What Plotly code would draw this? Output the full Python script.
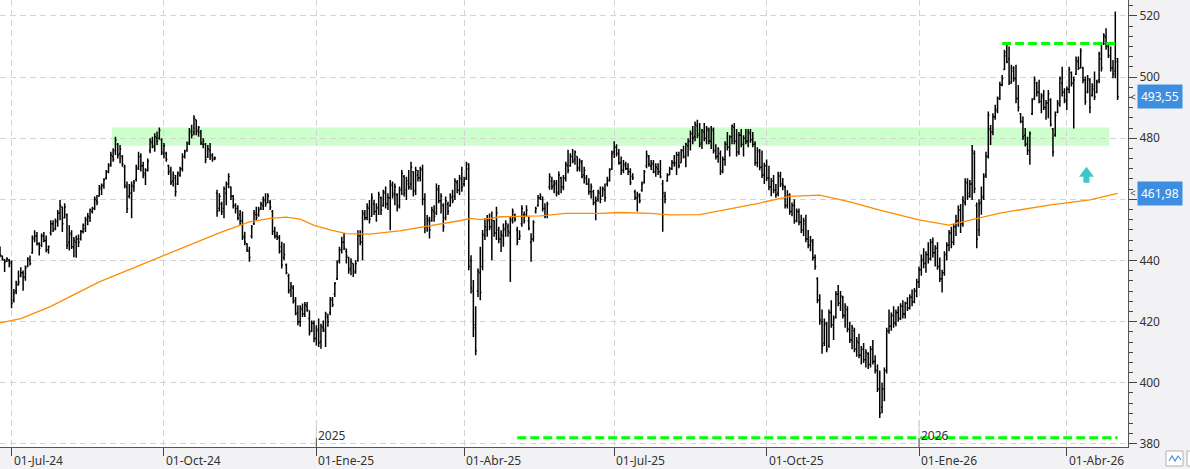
import pandas as pd
import plotly.graph_objects as go

start_date = "2024-06-24"

opens = [
444.0,441.5,440.2,439.8,440.0,439.5,427.0,430.0,432.0,435.0,
436.0,434.5,438.0,440.0,442.5,447.0,448.0,445.5,445.0,448.0,
446.5,443.5,449.0,452.0,450.5,452.5,455.5,457.5,454.0,455.0,
446.0,448.5,444.5,446.0,447.0,447.0,449.5,450.5,453.0,454.0,
456.0,457.0,459.5,461.0,463.5,464.5,467.0,469.0,471.5,474.0,
476.0,478.0,475.0,474.0,470.5,464.0,461.0,462.0,464.0,466.5,
470.0,474.0,471.0,468.5,469.5,476.0,478.5,477.0,480.0,480.0,
479.5,475.0,475.0,471.0,469.5,466.0,467.0,465.0,468.0,470.0,
474.0,476.0,478.5,482.0,482.0,486.0,482.5,482.0,478.0,478.0,
474.0,476.0,474.5,473.0,462.0,457.0,458.5,457.0,462.0,465.0,
464.0,461.0,458.0,457.0,455.0,453.0,448.0,445.5,443.0,448.0,
452.0,455.0,455.0,457.0,458.0,459.5,459.0,459.0,456.0,449.5,
448.0,447.5,444.5,441.0,438.5,435.0,430.5,431.0,427.0,423.0,
420.0,424.0,422.5,425.0,421.0,417.0,419.5,414.5,417.0,413.5,
418.0,417.0,421.5,423.0,427.0,429.0,434.0,440.0,443.5,446.0,
443.0,441.0,437.5,439.0,436.5,440.0,448.0,446.0,455.0,454.0,
457.0,454.5,458.5,456.0,457.0,460.5,458.0,462.0,458.5,460.5,
464.5,462.0,461.5,458.0,463.5,467.5,463.0,465.0,465.0,469.0,
463.0,468.0,467.0,470.0,460.0,451.0,453.0,453.0,456.0,455.5,
463.0,459.5,458.0,454.0,458.5,458.0,460.5,461.0,465.5,463.0,
466.5,465.0,467.0,470.0,440.0,430.0,418.0,430.0,436.0,438.0,
448.0,450.0,453.0,451.0,453.0,449.0,450.0,447.0,448.0,450.0,
451.0,449.0,453.0,455.0,450.0,447.0,452.0,455.0,455.0,453.0,
446.0,447.0,456.0,458.0,460.5,460.0,457.0,455.0,464.0,466.0,
464.5,465.0,462.5,467.0,464.0,467.0,471.0,471.0,474.0,473.0,
474.0,470.5,472.0,468.0,467.0,465.0,462.5,462.5,459.0,460.0,
462.0,461.0,463.0,465.0,466.0,470.0,475.5,477.0,475.0,472.0,
469.5,471.0,470.0,469.0,467.5,462.5,460.5,461.0,463.0,465.5,
471.0,474.0,471.0,471.5,469.0,470.0,469.0,465.0,461.0,466.0,
468.0,470.0,472.0,472.0,474.5,472.0,476.0,474.0,477.5,479.0,
481.5,480.5,484.0,481.5,478.5,482.0,480.0,482.5,479.0,482.5,
476.0,474.0,475.0,469.5,473.0,478.0,477.0,480.5,483.5,479.0,
475.5,481.0,478.0,480.0,479.0,481.5,479.5,478.0,472.0,475.5,
470.5,468.0,471.0,467.0,464.0,466.0,463.0,462.0,467.5,465.0,
464.0,458.0,461.0,456.0,458.0,453.0,456.0,452.5,450.0,452.0,
447.0,445.0,446.0,441.0,434.0,427.0,420.0,413.0,419.0,412.0,
423.0,419.0,421.5,429.0,426.0,428.0,422.0,424.0,417.5,414.0,
417.0,411.0,413.0,409.0,411.0,407.5,409.5,406.0,411.0,407.0,
404.0,398.0,392.0,398.0,404.0,417.0,418.5,422.0,419.5,423.0,
421.0,425.0,422.5,426.0,424.5,428.0,426.5,430.0,433.0,437.0,
440.0,439.0,442.0,440.5,446.0,442.5,444.0,438.0,434.0,436.0,
442.0,445.0,449.0,446.0,451.0,453.0,456.5,452.0,459.0,465.5,
462.0,465.0,475.0,458.0,450.0,459.0,461.0,468.0,474.0,483.0,
482.0,487.0,489.0,493.0,497.5,502.5,507.0,506.0,498.0,502.0,
499.5,493.0,488.0,485.5,481.0,478.0,476.0,488.0,493.0,498.0,
495.0,492.0,493.5,490.0,491.5,492.5,483.0,481.0,488.5,491.0,
498.0,495.0,492.0,496.0,501.5,498.0,501.0,505.0,503.0,503.0,
499.0,495.0,499.0,494.0,496.0,495.0,499.0,506.0,511.0,513.0,
510.0,507.0,503.0,502.0,505.0]

highs = [
444.6,441.6,440.5,441.1,440.5,440.0,430.7,433.4,436.7,437.8,
436.7,438.4,441.1,441.6,448.2,449.9,449.3,446.0,448.8,449.3,
448.2,444.9,453.2,453.2,453.7,456.5,459.8,457.6,458.7,455.4,
451.5,449.9,447.7,448.2,448.5,450.0,452.1,454.3,455.5,457.0,
457.6,460.9,461.4,464.7,465.2,466.9,469.6,471.8,475.6,476.7,
480.5,478.4,477.8,474.5,471.3,465.8,465.0,465.8,466.3,471.3,
475.6,475.1,472.3,470.2,473.4,480.0,480.5,481.6,482.2,483.5,
480.0,478.4,475.6,471.3,470.7,469.1,468.0,469.1,470.7,475.1,
476.2,478.9,483.3,484.4,487.5,486.0,484.0,482.7,480.0,478.4,
477.8,478.4,475.1,474.0,463.1,462.0,459.2,464.2,465.8,468.5,
464.2,461.4,458.7,458.1,456.5,456.0,449.4,445.6,444.5,451.6,
456.5,457.6,457.6,459.2,460.9,462.0,462.0,459.8,456.5,451.0,
449.4,448.3,446.1,445.6,439.0,435.7,433.0,431.9,428.1,425.4,
425.4,425.9,426.4,426.4,423.7,420.4,420.4,418.8,421.0,419.3,
420.4,423.2,422.6,428.1,428.1,433.0,440.1,444.5,447.8,448.9,
443.9,441.2,440.7,439.0,440.1,449.9,449.9,456.5,456.5,458.7,
459.8,462.0,459.8,458.7,462.5,460.9,463.1,464.2,462.0,466.3,
465.8,465.2,462.0,464.2,469.6,468.0,467.4,469.6,472.3,469.1,
470.7,469.6,470.7,471.3,462.0,454.9,454.3,457.6,458.1,465.2,
464.7,462.0,458.7,460.9,459.2,462.0,463.1,466.9,466.3,468.0,
470.7,467.4,472.3,471.8,441.7,433.6,425.0,437.4,444.5,450.0,
453.8,454.9,455.4,456.0,453.2,457.6,451.0,449.9,452.1,453.2,
452.1,454.3,457.0,455.4,451.0,449.9,458.1,456.0,458.1,454.3,
448.9,453.2,457.6,461.4,462.0,460.9,458.7,459.2,468.5,467.4,
466.3,466.3,469.1,467.4,468.0,472.3,476.2,475.1,476.5,476.0,
474.0,473.4,472.9,470.7,468.0,466.9,465.2,463.1,460.9,463.1,
464.2,464.2,465.2,467.4,470.2,476.0,479.0,478.0,476.5,474.0,
472.9,472.3,471.8,470.2,468.5,463.1,462.5,462.0,465.8,469.6,
476.0,474.5,472.9,472.9,471.8,471.8,472.9,466.3,462.5,468.5,
470.7,472.9,474.5,475.6,475.6,476.5,477.5,478.5,480.0,482.5,
484.0,485.5,486.0,485.0,483.0,485.0,484.0,483.5,484.0,483.5,
478.0,477.0,476.0,474.0,479.0,482.0,481.0,484.5,485.0,483.0,
482.0,483.0,481.0,483.0,483.0,483.0,482.0,479.0,477.0,476.5,
476.0,472.0,473.0,471.0,467.0,468.0,465.0,469.0,469.0,467.0,
464.5,463.0,462.0,459.0,460.0,457.0,457.0,455.0,454.0,455.0,
450.0,448.0,447.0,442.0,434.5,429.0,424.0,421.0,420.0,424.0,
427.0,422.0,430.0,432.0,430.0,428.5,426.0,425.0,420.0,419.0,
418.0,415.0,416.0,412.0,413.0,411.0,410.0,412.0,414.0,409.0,
406.0,404.0,400.0,405.0,418.0,424.0,423.0,425.0,424.0,425.0,
426.0,427.0,426.5,428.0,429.0,430.5,431.0,434.0,438.0,442.0,
444.0,443.0,446.0,447.0,447.5,445.0,446.0,441.0,437.0,443.0,
446.0,450.0,451.0,452.0,455.0,458.0,458.5,461.0,466.9,466.9,
466.3,477.8,476.0,459.0,460.0,464.2,468.5,475.6,488.7,484.3,
488.2,490.9,493.6,498.5,500.7,508.9,511.0,510.0,504.0,503.5,
504.0,497.4,488.2,487.1,483.3,480.5,482.2,493.1,500.2,498.5,
499.1,494.7,495.8,492.5,495.8,493.1,483.3,488.7,492.5,500.2,
503.4,496.3,496.9,503.4,501.8,500.2,506.7,506.7,509.4,503.4,
500.2,500.7,499.6,498.0,501.8,499.1,508.3,511.0,514.3,516.0,
511.0,510.0,505.6,521.4,506.2]

lows = [
441.1,440.0,436.2,439.5,437.8,424.4,426.3,429.0,431.8,434.5,
430.1,433.4,437.8,438.4,442.2,446.0,444.9,441.6,444.4,446.0,
442.7,442.2,448.2,449.3,449.9,451.0,453.2,449.3,453.7,443.8,
443.3,443.8,441.1,440.9,444.4,446.5,448.8,449.3,451.5,452.6,
455.4,456.5,458.1,460.9,461.4,463.5,466.5,468.5,470.7,472.3,
474.5,473.4,471.8,470.7,463.6,455.5,460.3,453.8,462.5,465.8,
469.6,469.1,466.9,464.7,469.1,475.1,476.7,475.6,477.8,479.5,
474.5,473.4,472.3,468.0,464.7,464.2,460.9,464.7,467.4,469.1,
473.4,475.6,477.8,480.0,481.0,481.0,480.5,477.8,476.7,471.8,
473.5,472.9,472.3,472.9,454.3,456.0,454.9,453.8,458.1,463.6,
459.8,457.0,455.4,453.2,451.6,446.7,445.0,442.8,439.6,447.2,
451.6,453.2,454.3,456.5,456.5,457.6,458.7,456.5,448.3,447.2,
446.7,442.3,437.4,440.1,435.5,429.2,428.1,425.9,422.1,418.8,
418.3,421.5,421.5,423.2,415.5,416.6,413.3,412.2,411.7,411.1,
416.6,411.7,418.3,422.1,424.8,428.1,433.6,439.0,442.3,443.4,
439.0,435.7,435.2,434.6,435.7,439.6,445.0,440.1,453.2,453.2,
452.1,454.3,454.9,452.7,454.9,454.9,457.6,457.0,456.5,449.9,
460.3,458.1,456.0,457.0,461.4,460.9,459.8,463.1,463.1,460.9,
461.4,465.8,465.8,458.1,448.9,449.4,447.2,452.7,452.7,454.9,
458.7,455.4,449.4,453.2,454.9,457.6,458.7,459.8,462.0,461.4,
462.5,464.2,466.3,436.8,429.2,415.0,409.0,428.1,427.0,436.8,
446.7,447.8,449.9,440.1,447.8,446.7,445.6,442.8,444.5,447.8,
447.8,433.0,452.1,452.7,445.0,446.7,451.0,452.1,454.3,449.9,
439.6,446.1,455.4,457.6,459.8,456.0,453.8,453.8,463.1,463.1,
462.0,460.9,461.4,462.0,463.0,465.8,468.5,470.7,471.8,471.3,
469.1,469.1,466.9,465.2,464.7,461.5,460.3,458.1,453.2,459.2,
458.7,460.9,459.2,464.2,465.8,469.6,473.5,474.0,471.3,468.0,
468.5,469.6,468.0,464.7,466.3,459.8,456.0,458.7,462.5,465.2,
470.2,470.7,469.6,468.5,467.4,468.0,466.9,449.4,458.7,465.8,
468.0,469.6,470.7,468.0,470.2,472.0,473.4,470.5,474.0,476.0,
478.0,479.0,480.0,477.0,476.5,479.0,478.0,478.0,476.5,475.0,
473.0,472.0,468.0,468.5,471.0,476.0,474.0,478.0,478.0,474.0,
474.5,477.0,474.0,478.0,477.0,478.5,477.0,471.0,470.5,469.5,
467.0,465.0,466.0,463.0,461.0,462.0,460.5,461.0,464.0,463.0,
457.0,457.0,455.0,454.5,452.0,452.5,451.5,449.0,448.0,446.0,
444.0,443.0,440.0,437.0,426.0,419.0,409.5,412.0,410.0,411.5,
418.0,414.0,421.0,425.0,423.5,421.0,418.0,416.5,413.0,411.0,
410.0,408.5,408.0,406.0,406.5,405.0,404.5,405.0,406.0,403.0,
397.0,388.5,390.0,394.0,403.0,416.0,417.0,418.0,418.5,420.0,
420.5,421.0,421.0,423.5,424.0,425.0,426.0,428.0,431.0,435.0,
437.5,436.0,439.0,440.0,441.0,438.0,437.0,433.0,429.5,435.0,
440.0,443.0,444.0,445.0,448.0,451.0,449.0,451.0,458.0,459.8,
460.5,459.8,462.0,444.0,448.0,455.0,459.8,467.0,473.4,477.8,
481.0,486.0,488.2,492.5,497.0,502.3,504.5,497.4,497.9,498.5,
491.4,488.7,484.9,479.4,477.3,474.5,471.3,487.6,492.5,493.6,
491.4,488.2,489.2,486.0,486.5,483.8,474.0,480.5,488.2,490.3,
493.6,491.4,489.2,494.7,496.9,483.2,500.7,502.3,502.9,498.0,
490.9,494.7,488.2,493.6,492.5,494.7,498.0,501.8,510.5,508.9,
506.2,501.8,499.6,499.6,492.5]

closes = [
441.8,440.5,439.5,440.6,439.0,426.0,429.5,432.5,433.0,436.0,
434.5,437.5,440.5,439.0,447.5,448.0,445.5,444.0,448.0,446.5,
443.5,444.5,452.0,450.0,453.0,455.5,458.0,452.0,457.5,445.0,
449.0,444.5,446.5,447.0,446.0,449.5,451.5,453.5,454.5,456.5,
457.0,460.0,459.0,464.0,464.5,466.5,469.0,471.0,474.5,473.0,
479.5,474.5,476.5,471.5,464.5,457.0,462.0,464.5,465.5,470.5,
474.0,471.0,468.0,469.5,472.5,479.0,477.5,480.5,479.0,482.5,
475.5,477.5,473.0,469.0,465.5,468.0,462.5,468.5,470.0,474.0,
475.5,478.0,482.5,481.0,486.5,482.0,483.5,478.5,479.0,473.0,
476.5,474.0,473.5,473.5,456.0,461.0,456.0,463.5,465.0,467.5,
461.0,458.0,457.0,454.0,453.0,447.5,446.0,443.5,441.0,451.0,
455.5,454.0,456.5,458.5,460.0,458.5,461.0,457.5,449.5,448.0,
447.5,443.0,438.5,442.0,436.0,430.0,431.5,426.5,422.6,420.0,
424.5,422.5,425.5,423.8,416.5,419.5,414.5,417.5,413.0,418.5,
417.5,422.5,420.0,427.5,425.5,432.5,439.5,443.5,446.0,444.0,
441.5,437.0,439.5,436.0,439.0,448.5,446.0,455.5,454.0,457.5,
453.5,460.5,456.0,457.5,461.5,456.5,462.5,458.5,460.5,465.0,
461.5,464.0,457.5,463.0,468.5,462.0,466.0,464.0,470.5,462.5,
469.5,467.0,469.5,460.0,451.0,453.5,450.0,456.5,454.5,463.5,
459.5,461.0,451.0,459.5,456.0,461.0,459.5,466.0,463.0,467.0,
464.0,466.5,471.5,438.0,431.0,419.0,410.5,436.5,429.5,448.5,
451.0,453.5,451.0,454.0,449.0,455.5,447.0,448.5,450.5,452.0,
449.5,453.5,456.0,453.5,446.0,448.0,457.0,453.0,456.5,450.5,
447.0,452.5,457.0,460.5,461.0,457.0,454.5,458.5,467.5,464.0,
465.5,462.0,468.0,464.0,467.0,471.5,469.5,474.0,472.5,475.5,
470.0,472.5,467.5,469.5,465.0,462.5,464.0,459.0,459.5,462.5,
460.0,463.5,460.5,466.5,469.5,475.0,477.0,475.0,472.0,469.5,
471.5,470.0,469.0,465.5,467.0,460.5,461.5,459.5,465.0,469.0,
474.5,471.5,472.0,469.0,470.5,469.0,467.5,462.0,460.0,468.0,
470.0,472.0,471.5,474.5,471.0,476.0,474.0,478.0,479.0,481.5,
480.0,484.5,481.0,478.0,482.5,480.0,483.0,479.0,483.0,476.0,
474.0,476.5,469.0,473.0,478.0,477.0,480.5,484.0,479.0,475.5,
481.0,478.0,480.0,479.0,482.0,479.5,478.0,472.0,476.0,470.5,
468.0,471.0,467.0,464.0,466.0,463.0,461.5,468.0,465.0,464.5,
458.0,461.5,456.0,458.0,453.0,456.0,452.5,450.0,453.0,447.0,
445.0,446.5,441.0,438.0,427.0,420.5,412.0,419.5,411.0,423.0,
419.0,421.0,429.0,426.0,428.5,422.0,425.0,417.5,414.0,418.0,
411.0,413.5,409.0,411.0,407.5,410.0,406.0,411.0,407.0,404.0,
398.0,390.0,398.0,404.0,417.0,418.5,422.0,419.5,423.0,421.0,
425.0,422.5,426.0,424.5,428.0,426.5,430.0,433.0,437.0,440.5,
439.0,442.0,440.5,446.0,442.5,444.0,438.0,434.0,436.0,442.0,
445.0,449.0,446.0,451.0,453.0,456.5,452.0,459.5,465.5,461.0,
465.0,476.0,463.5,447.0,458.5,460.5,467.5,474.0,487.5,482.0,
487.0,489.5,493.0,497.5,499.5,508.0,505.0,498.5,503.0,499.5,
493.0,490.0,485.5,480.5,478.0,476.0,481.5,492.5,499.0,495.0,
492.0,494.0,490.0,491.5,494.5,484.5,475.5,487.5,491.5,499.5,
495.0,492.5,496.0,502.5,498.0,499.0,505.5,503.0,508.5,499.0,
492.0,499.5,490.0,497.0,493.5,498.5,507.5,503.0,513.5,510.0,
507.0,503.0,501.0,506.0,493.55]

# moving average (orange), sampled at these bar numbers
ma_bar = [0, 9, 22, 43, 61, 82, 95, 108, 117, 124, 130, 136, 143, 150, 160, 173,
          186, 199, 204, 208, 217, 234, 245, 260, 268, 282, 290, 303, 329, 342,
          355, 368, 381, 398, 411, 424, 433, 455, 472, 484]
ma_vals = [419.6, 421.0, 425.0, 433.0, 438.6, 445.0, 449.0, 452.6, 453.8, 454.2,
           453.5, 451.5, 450.0, 448.8, 448.6, 449.7, 451.3, 453.0, 453.8, 453.4,
           454.3, 454.6, 455.4, 455.4, 455.7, 455.4, 454.9, 455.0, 458.8, 461.0,
           461.4, 459.2, 456.5, 453.3, 451.6, 453.9, 455.5, 458.2, 459.8, 461.98]

tick_dates = ["2024-07-01", "2024-10-01", "2025-01-01", "2025-04-01",
              "2025-07-01", "2025-10-01", "2026-01-01", "2026-04-01"]
tick_labels = ["01-Jul-24", "01-Oct-24", "01-Ene-25", "01-Abr-25",
               "01-Jul-25", "01-Oct-25", "01-Ene-26", "01-Abr-26"]
year_dates = ["2025-01-01", "2026-01-01"]
year_labels = ["2025", "2026"]

zone_low, zone_high = 477.5, 483.5
zone_start_bar, zone_end_bar = 48, 480
resist_level, resist_start_bar = 511.0, 434
support_level, support_start_bar = 382.0, 224
last_price = 493.55
ma_last = 461.98
arrow_bar, arrow_base = 470, 465.4

dates = pd.bdate_range(start_date, periods=len(closes))
half_day = pd.Timedelta(hours=12)

fig = go.Figure()
fig.add_trace(go.Ohlc(
    x=dates, open=opens, high=highs, low=lows, close=closes,
    increasing=dict(line=dict(color="#000000", width=1.5)),
    decreasing=dict(line=dict(color="#000000", width=1.5)),
    tickwidth=0.5, showlegend=False, hoverinfo="skip"))
fig.add_trace(go.Scatter(
    x=[dates[i] for i in ma_bar], y=ma_vals, mode="lines",
    line=dict(color="#ff8c00", width=1.3), showlegend=False, hoverinfo="skip"))

shapes = []
shapes.append(dict(type="rect", xref="x", yref="y",
                   x0=dates[zone_start_bar] + half_day, x1=dates[zone_end_bar] + half_day,
                   y0=zone_low, y1=zone_high, fillcolor="#ccffcc",
                   line=dict(width=0), layer="below"))
shapes.append(dict(type="line", xref="x", yref="y",
                   x0=dates[resist_start_bar], x1=dates[-1],
                   y0=resist_level, y1=resist_level,
                   line=dict(color="#00ff00", width=3, dash="9px,4px")))
shapes.append(dict(type="line", xref="x", yref="y",
                   x0=dates[support_start_bar], x1=dates[-1],
                   y0=support_level, y1=support_level,
                   line=dict(color="#00ff00", width=3, dash="9px,4px")))
for yd in year_dates:
    shapes.append(dict(type="line", xref="x", yref="paper", x0=yd, x1=yd, y0=0, y1=0.06,
                       line=dict(color="#c8c8c8", width=1), layer="below"))
    shapes.append(dict(type="line", xref="x", yref="paper", x0=yd, x1=yd, y0=0, y1=0.02,
                       line=dict(color="#555555", width=1)))
shapes.append(dict(type="path", xref="x", yref="y", xsizemode="pixel", ysizemode="pixel",
                   xanchor=dates[arrow_bar] + half_day, yanchor=arrow_base,
                   path="M -3,0 L 3,0 L 3,6 L 7.5,6 L 0,16 L -7.5,6 L -3,6 Z",
                   fillcolor="#3cc6cc", line=dict(width=0)))
# small toolbar buttons at the bottom-right corner
shapes.append(dict(type="rect", xref="paper", yref="paper",
                   x0=1166 / 1128, x1=1183 / 1128, y0=-4 / 447, y1=-19 / 447,
                   fillcolor="#ffffff", line=dict(color="#b0b0b0", width=1)))
shapes.append(dict(type="path", xref="paper", yref="paper",
                   path="M %f,%f L %f,%f L %f,%f L %f,%f L %f,%f" % (
                       1169 / 1128, -14 / 447, 1172 / 1128, -9 / 447, 1175 / 1128, -14 / 447,
                       1178 / 1128, -9 / 447, 1181 / 1128, -13 / 447),
                   line=dict(color="#4a90d9", width=1.2)))
shapes.append(dict(type="rect", xref="paper", yref="paper",
                   x0=1187 / 1128, x1=1200 / 1128, y0=-4 / 447, y1=-19 / 447,
                   fillcolor="#ffffff", line=dict(color="#b0b0b0", width=1)))

annotations = []
for d, t in zip(tick_dates, tick_labels):
    annotations.append(dict(x=d, y=0, xref="x", yref="paper", text=t, showarrow=False,
                            xanchor="left", yanchor="top", xshift=0, yshift=-3,
                            font=dict(size=12, color="#333333")))
for d, t in zip(year_dates, year_labels):
    annotations.append(dict(x=d, y=0, xref="x", yref="paper", text=t, showarrow=False,
                            xanchor="left", yanchor="bottom", xshift=0, yshift=1,
                            font=dict(size=12, color="#333333")))
for v, t in [(last_price, "493,55"), (ma_last, "461,98")]:
    annotations.append(dict(x=1, y=v, xref="paper", yref="y", text=t, showarrow=False,
                            xanchor="left", yanchor="middle", xshift=9,
                            bgcolor="#3d8ee0", borderpad=3,
                            font=dict(size=12, color="white")))
    annotations.append(dict(x=1, y=v, xref="paper", yref="y", text="<", showarrow=False,
                            xanchor="left", yanchor="middle", xshift=0,
                            font=dict(size=10, color="#555555")))

fig.update_layout(
    width=1190, height=469,
    margin=dict(l=0, r=62, t=0, b=22),
    paper_bgcolor="#f2f2f4", plot_bgcolor="#ffffff",
    font=dict(family="Noto Sans", size=12, color="#333333"),
    shapes=shapes, annotations=annotations,
    xaxis=dict(type="date", range=[dates[0], "2026-05-07 12:00"],
               rangebreaks=[dict(bounds=["sat", "mon"])],
               tickmode="array", tickvals=tick_dates, showticklabels=False,
               ticks="outside", ticklen=8, tickcolor="#444444",
               showgrid=True, gridcolor="#d4d4d4", griddash="6px,4px", gridwidth=1,
               showline=True, linecolor="#555555", linewidth=1, zeroline=False,
               rangeslider=dict(visible=False), fixedrange=True),
    yaxis=dict(side="right", range=[379.0, 525.2], tick0=380, dtick=20,
               ticks="outside", ticklen=8, tickcolor="#444444",
               showgrid=True, gridcolor="#d4d4d4", griddash="6px,4px", gridwidth=1,
               showline=True, linecolor="#555555", linewidth=1, zeroline=False,
               tickfont=dict(size=12, color="#333333"),
               minor=dict(tick0=380, dtick=20/6, ticks="outside", ticklen=4,
                          tickcolor="#444444", showgrid=False)),
)

fig.write_html("out.html")
